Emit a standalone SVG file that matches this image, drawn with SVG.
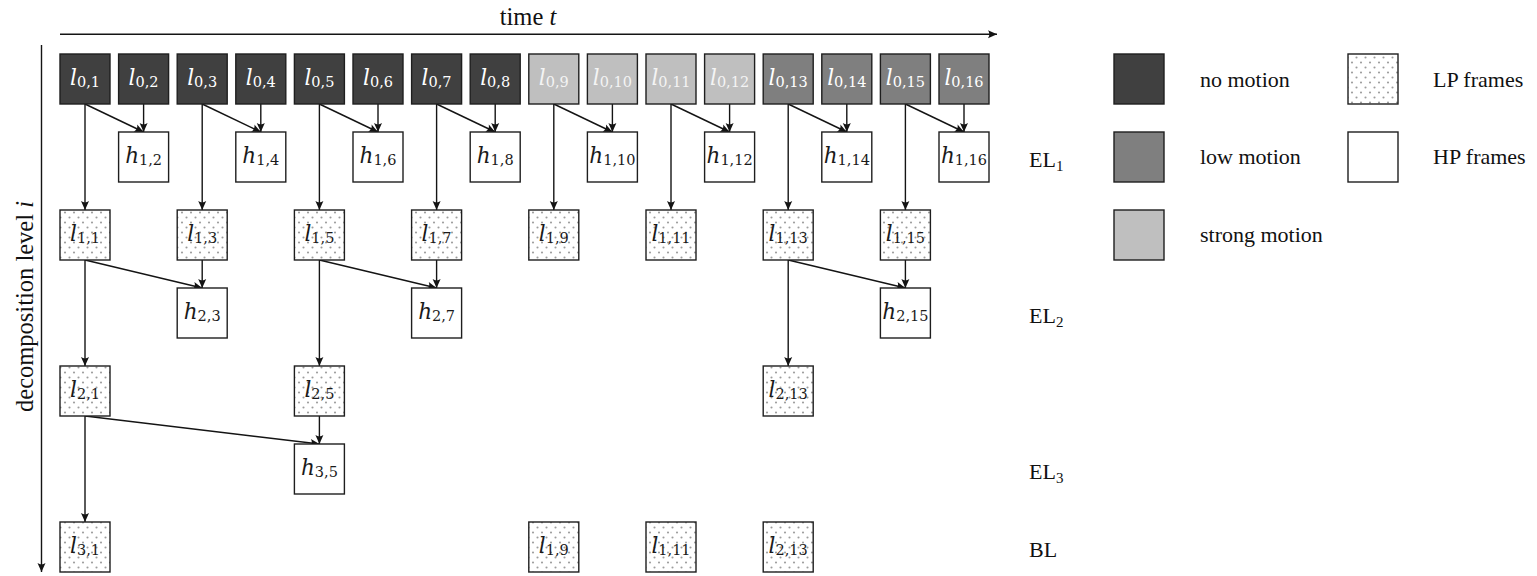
<svg xmlns="http://www.w3.org/2000/svg" width="1537" height="576" viewBox="0 0 1537 576">
<style>
.bx{stroke:#1e1e1e;stroke-width:1.4}
.nm{fill:#404040}
.lm{fill:#7f7f7f}
.sm{fill:#bfbfbf}
.hp{fill:#ffffff}
.lp{fill:url(#dots)}
.ml{font-family:"DejaVu Serif",serif;font-style:italic;font-size:21.5px;text-anchor:middle}
.sb{font-style:normal;font-size:14.5px}
.w{fill:#ffffff}
.lw{fill:#f4f4f4}
.k{fill:#1a1a1a}
.tx{font-family:"Liberation Serif","Times New Roman",serif;font-size:22px;fill:#111}
.big{font-family:"Liberation Serif","Times New Roman",serif;font-size:24.5px;fill:#111}
.c line{stroke:#141414;stroke-width:1.4;fill:none}
.c .a{marker-end:url(#ah)}
</style>
<defs>
<pattern id="dots" patternUnits="userSpaceOnUse" x="0" y="0" width="9" height="10">
<rect width="9" height="10" fill="#ffffff"/>
<circle cx="2" cy="2.5" r="1.05" fill="#9c9c9c"/>
<circle cx="6.5" cy="7.5" r="1.05" fill="#9c9c9c"/>
</pattern>
<marker id="ah" viewBox="0 0 10 10" refX="10" refY="5" markerWidth="10" markerHeight="10" markerUnits="userSpaceOnUse" orient="auto">
<path d="M10,5 L1,1 Q3.8,5 1,9 Z" fill="#141414"/>
</marker>
</defs>
<rect width="1537" height="576" fill="#ffffff"/>

<!-- axes -->
<g id="axes" class="c">
<line class="a" x1="60" y1="34.3" x2="997" y2="34.3"/>
<line class="a" x1="41.5" y1="45" x2="41.5" y2="572"/>
</g>
<text id="time-label" class="big" x="528" y="25" text-anchor="middle">time <tspan font-style="italic">t</tspan></text>
<text id="level-label" class="big" transform="translate(33,306.5) rotate(-90)" text-anchor="middle">decomposition level <tspan font-style="italic">i</tspan></text>

<!-- connectors -->
<g id="connectors" class="c">
<!-- level 0 -> EL1 -->
<line class="a" x1="85" y1="104" x2="85" y2="210"/>
<line class="a" x1="85" y1="104" x2="143.6" y2="132"/>
<line class="a" x1="143.6" y1="104" x2="143.6" y2="132"/>
<line class="a" x1="202.2" y1="104" x2="202.2" y2="210"/>
<line class="a" x1="202.2" y1="104" x2="260.8" y2="132"/>
<line class="a" x1="260.8" y1="104" x2="260.8" y2="132"/>
<line class="a" x1="319.4" y1="104" x2="319.4" y2="210"/>
<line class="a" x1="319.4" y1="104" x2="378" y2="132"/>
<line class="a" x1="378" y1="104" x2="378" y2="132"/>
<line class="a" x1="436.6" y1="104" x2="436.6" y2="210"/>
<line class="a" x1="436.6" y1="104" x2="495.2" y2="132"/>
<line class="a" x1="495.2" y1="104" x2="495.2" y2="132"/>
<line class="a" x1="553.8" y1="104" x2="553.8" y2="210"/>
<line class="a" x1="553.8" y1="104" x2="612.4" y2="132"/>
<line class="a" x1="612.4" y1="104" x2="612.4" y2="132"/>
<line class="a" x1="671" y1="104" x2="671" y2="210"/>
<line class="a" x1="671" y1="104" x2="729.6" y2="132"/>
<line class="a" x1="729.6" y1="104" x2="729.6" y2="132"/>
<line class="a" x1="788.2" y1="104" x2="788.2" y2="210"/>
<line class="a" x1="788.2" y1="104" x2="846.8" y2="132"/>
<line class="a" x1="846.8" y1="104" x2="846.8" y2="132"/>
<line class="a" x1="905.4" y1="104" x2="905.4" y2="210"/>
<line class="a" x1="905.4" y1="104" x2="964" y2="132"/>
<line class="a" x1="964" y1="104" x2="964" y2="132"/>
<!-- level 1 -> EL2 -->
<line class="a" x1="85" y1="260" x2="85" y2="366"/>
<line class="a" x1="85" y1="260" x2="202.2" y2="288"/>
<line class="a" x1="202.2" y1="260" x2="202.2" y2="288"/>
<line class="a" x1="319.4" y1="260" x2="319.4" y2="366"/>
<line class="a" x1="319.4" y1="260" x2="436.6" y2="288"/>
<line class="a" x1="436.6" y1="260" x2="436.6" y2="288"/>
<line class="a" x1="788.2" y1="260" x2="788.2" y2="366"/>
<line class="a" x1="788.2" y1="260" x2="905.4" y2="288"/>
<line class="a" x1="905.4" y1="260" x2="905.4" y2="288"/>
<!-- level 2 -> EL3 -->
<line class="a" x1="85" y1="416" x2="85" y2="522"/>
<line class="a" x1="85" y1="416" x2="319.4" y2="444"/>
<line class="a" x1="319.4" y1="416" x2="319.4" y2="444"/>
</g>

<!-- level 0 -->
<g id="l0-1"><rect class="bx nm" x="60" y="54" width="50" height="50"/><text class="ml w" x="85" y="85">l<tspan class="sb" dy="2">0,1</tspan></text></g>
<g id="l0-2"><rect class="bx nm" x="118.6" y="54" width="50" height="50"/><text class="ml w" x="143.6" y="85">l<tspan class="sb" dy="2">0,2</tspan></text></g>
<g id="l0-3"><rect class="bx nm" x="177.2" y="54" width="50" height="50"/><text class="ml w" x="202.2" y="85">l<tspan class="sb" dy="2">0,3</tspan></text></g>
<g id="l0-4"><rect class="bx nm" x="235.8" y="54" width="50" height="50"/><text class="ml w" x="260.8" y="85">l<tspan class="sb" dy="2">0,4</tspan></text></g>
<g id="l0-5"><rect class="bx nm" x="294.4" y="54" width="50" height="50"/><text class="ml w" x="319.4" y="85">l<tspan class="sb" dy="2">0,5</tspan></text></g>
<g id="l0-6"><rect class="bx nm" x="353" y="54" width="50" height="50"/><text class="ml w" x="378" y="85">l<tspan class="sb" dy="2">0,6</tspan></text></g>
<g id="l0-7"><rect class="bx nm" x="411.6" y="54" width="50" height="50"/><text class="ml w" x="436.6" y="85">l<tspan class="sb" dy="2">0,7</tspan></text></g>
<g id="l0-8"><rect class="bx nm" x="470.2" y="54" width="50" height="50"/><text class="ml w" x="495.2" y="85">l<tspan class="sb" dy="2">0,8</tspan></text></g>
<g id="l0-9"><rect class="bx sm" x="528.8" y="54" width="50" height="50"/><text class="ml lw" x="553.8" y="85">l<tspan class="sb" dy="2">0,9</tspan></text></g>
<g id="l0-10"><rect class="bx sm" x="587.4" y="54" width="50" height="50"/><text class="ml lw" x="612.4" y="85">l<tspan class="sb" dy="2">0,10</tspan></text></g>
<g id="l0-11"><rect class="bx sm" x="646" y="54" width="50" height="50"/><text class="ml lw" x="671" y="85">l<tspan class="sb" dy="2">0,11</tspan></text></g>
<g id="l0-12"><rect class="bx sm" x="704.6" y="54" width="50" height="50"/><text class="ml lw" x="729.6" y="85">l<tspan class="sb" dy="2">0,12</tspan></text></g>
<g id="l0-13"><rect class="bx lm" x="763.2" y="54" width="50" height="50"/><text class="ml w" x="788.2" y="85">l<tspan class="sb" dy="2">0,13</tspan></text></g>
<g id="l0-14"><rect class="bx lm" x="821.8" y="54" width="50" height="50"/><text class="ml w" x="846.8" y="85">l<tspan class="sb" dy="2">0,14</tspan></text></g>
<g id="l0-15"><rect class="bx lm" x="880.4" y="54" width="50" height="50"/><text class="ml w" x="905.4" y="85">l<tspan class="sb" dy="2">0,15</tspan></text></g>
<g id="l0-16"><rect class="bx lm" x="939" y="54" width="50" height="50"/><text class="ml w" x="964" y="85">l<tspan class="sb" dy="2">0,16</tspan></text></g>

<!-- EL1 HP frames -->
<g id="h1-2"><rect class="bx hp" x="118.6" y="132" width="50" height="50"/><text class="ml k" x="143.6" y="162.5">h<tspan class="sb" dy="2">1,2</tspan></text></g>
<g id="h1-4"><rect class="bx hp" x="235.8" y="132" width="50" height="50"/><text class="ml k" x="260.8" y="162.5">h<tspan class="sb" dy="2">1,4</tspan></text></g>
<g id="h1-6"><rect class="bx hp" x="353" y="132" width="50" height="50"/><text class="ml k" x="378" y="162.5">h<tspan class="sb" dy="2">1,6</tspan></text></g>
<g id="h1-8"><rect class="bx hp" x="470.2" y="132" width="50" height="50"/><text class="ml k" x="495.2" y="162.5">h<tspan class="sb" dy="2">1,8</tspan></text></g>
<g id="h1-10"><rect class="bx hp" x="587.4" y="132" width="50" height="50"/><text class="ml k" x="612.4" y="162.5">h<tspan class="sb" dy="2">1,10</tspan></text></g>
<g id="h1-12"><rect class="bx hp" x="704.6" y="132" width="50" height="50"/><text class="ml k" x="729.6" y="162.5">h<tspan class="sb" dy="2">1,12</tspan></text></g>
<g id="h1-14"><rect class="bx hp" x="821.8" y="132" width="50" height="50"/><text class="ml k" x="846.8" y="162.5">h<tspan class="sb" dy="2">1,14</tspan></text></g>
<g id="h1-16"><rect class="bx hp" x="939" y="132" width="50" height="50"/><text class="ml k" x="964" y="162.5">h<tspan class="sb" dy="2">1,16</tspan></text></g>

<!-- level 1 LP frames -->
<g id="l1-1"><rect class="bx lp" x="60" y="210" width="50" height="50"/><text class="ml k" x="85" y="241">l<tspan class="sb" dy="2">1,1</tspan></text></g>
<g id="l1-3"><rect class="bx lp" x="177.2" y="210" width="50" height="50"/><text class="ml k" x="202.2" y="241">l<tspan class="sb" dy="2">1,3</tspan></text></g>
<g id="l1-5"><rect class="bx lp" x="294.4" y="210" width="50" height="50"/><text class="ml k" x="319.4" y="241">l<tspan class="sb" dy="2">1,5</tspan></text></g>
<g id="l1-7"><rect class="bx lp" x="411.6" y="210" width="50" height="50"/><text class="ml k" x="436.6" y="241">l<tspan class="sb" dy="2">1,7</tspan></text></g>
<g id="l1-9"><rect class="bx lp" x="528.8" y="210" width="50" height="50"/><text class="ml k" x="553.8" y="241">l<tspan class="sb" dy="2">1,9</tspan></text></g>
<g id="l1-11"><rect class="bx lp" x="646" y="210" width="50" height="50"/><text class="ml k" x="671" y="241">l<tspan class="sb" dy="2">1,11</tspan></text></g>
<g id="l1-13"><rect class="bx lp" x="763.2" y="210" width="50" height="50"/><text class="ml k" x="788.2" y="241">l<tspan class="sb" dy="2">1,13</tspan></text></g>
<g id="l1-15"><rect class="bx lp" x="880.4" y="210" width="50" height="50"/><text class="ml k" x="905.4" y="241">l<tspan class="sb" dy="2">1,15</tspan></text></g>

<!-- EL2 HP frames -->
<g id="h2-3"><rect class="bx hp" x="177.2" y="288" width="50" height="50"/><text class="ml k" x="202.2" y="318.5">h<tspan class="sb" dy="2">2,3</tspan></text></g>
<g id="h2-7"><rect class="bx hp" x="411.6" y="288" width="50" height="50"/><text class="ml k" x="436.6" y="318.5">h<tspan class="sb" dy="2">2,7</tspan></text></g>
<g id="h2-15"><rect class="bx hp" x="880.4" y="288" width="50" height="50"/><text class="ml k" x="905.4" y="318.5">h<tspan class="sb" dy="2">2,15</tspan></text></g>

<!-- level 2 LP frames -->
<g id="l2-1"><rect class="bx lp" x="60" y="366" width="50" height="50"/><text class="ml k" x="85" y="397">l<tspan class="sb" dy="2">2,1</tspan></text></g>
<g id="l2-5"><rect class="bx lp" x="294.4" y="366" width="50" height="50"/><text class="ml k" x="319.4" y="397">l<tspan class="sb" dy="2">2,5</tspan></text></g>
<g id="l2-13"><rect class="bx lp" x="763.2" y="366" width="50" height="50"/><text class="ml k" x="788.2" y="397">l<tspan class="sb" dy="2">2,13</tspan></text></g>

<!-- EL3 HP frame -->
<g id="h3-5"><rect class="bx hp" x="294.4" y="444" width="50" height="50"/><text class="ml k" x="319.4" y="474.5">h<tspan class="sb" dy="2">3,5</tspan></text></g>

<!-- base layer -->
<g id="bl-l3-1"><rect class="bx lp" x="60" y="522" width="50" height="50"/><text class="ml k" x="85" y="553">l<tspan class="sb" dy="2">3,1</tspan></text></g>
<g id="bl-l1-9"><rect class="bx lp" x="528.8" y="522" width="50" height="50"/><text class="ml k" x="553.8" y="553">l<tspan class="sb" dy="2">1,9</tspan></text></g>
<g id="bl-l1-11"><rect class="bx lp" x="646" y="522" width="50" height="50"/><text class="ml k" x="671" y="553">l<tspan class="sb" dy="2">1,11</tspan></text></g>
<g id="bl-l2-13"><rect class="bx lp" x="763.2" y="522" width="50" height="50"/><text class="ml k" x="788.2" y="553">l<tspan class="sb" dy="2">2,13</tspan></text></g>

<!-- layer labels -->
<g id="layer-labels" class="tx">
<text x="1029" y="166.5">EL<tspan font-size="15" dy="4">1</tspan></text>
<text x="1029" y="322.5">EL<tspan font-size="15" dy="4">2</tspan></text>
<text x="1029" y="478.5">EL<tspan font-size="15" dy="4">3</tspan></text>
<text x="1029" y="556.5">BL</text>
</g>

<!-- legend -->
<g id="legend-no-motion"><rect class="bx nm" x="1114" y="54" width="50" height="50"/><text class="tx" x="1200" y="86.5">no motion</text></g>
<g id="legend-low-motion"><rect class="bx lm" x="1114" y="132" width="50" height="50"/><text class="tx" x="1200" y="164">low motion</text></g>
<g id="legend-strong-motion"><rect class="bx sm" x="1114" y="210" width="50" height="50"/><text class="tx" x="1200" y="242">strong motion</text></g>
<g id="legend-lp"><rect class="bx lp" x="1348" y="54" width="50" height="50"/><text class="tx" x="1433" y="86.5">LP frames</text></g>
<g id="legend-hp"><rect class="bx hp" x="1348" y="132" width="50" height="50"/><text class="tx" x="1433" y="164">HP frames</text></g>
</svg>
